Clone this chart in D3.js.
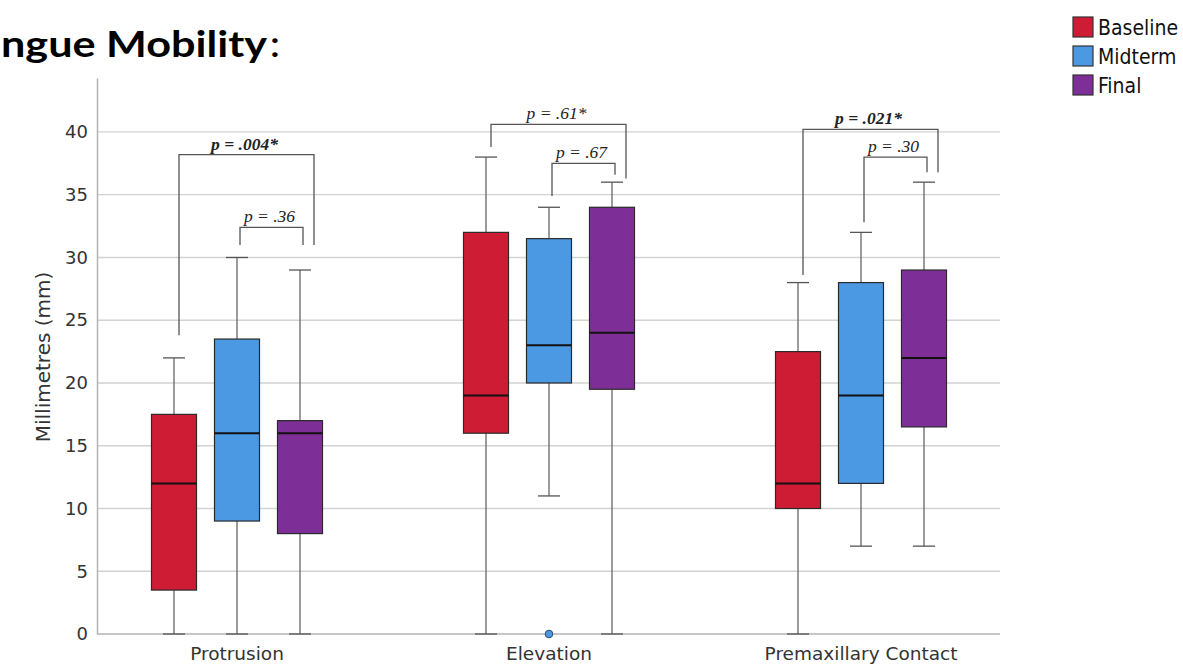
<!DOCTYPE html>
<html>
<head>
<meta charset="utf-8">
<script src="https://cdn.jsdelivr.net/npm/d3@7/dist/d3.min.js"></script>
<style>
  html, body { margin: 0; padding: 0; background: #fff; }
  svg { display: block; }
</style>
</head>
<body>
<svg id="chart" width="1183" height="667"></svg>
<script>
// ---------------- DATA ----------------
const categories = ["Protrusion", "Elevation", "Premaxillary Contact"];
const series = ["Baseline", "Midterm", "Final"];
// per category, per series
const whiskerLow  = [[0, 0, 0], [0, 11, 0], [0, 7, 7]];
const q1Values    = [[3.5, 9, 8], [16, 20, 19.5], [10, 12, 16.5]];
const medianValues= [[12, 16, 16], [19, 23, 24], [12, 19, 22]];
const q3Values    = [[17.5, 23.5, 17], [32, 31.5, 34], [22.5, 28, 29]];
const whiskerHigh = [[22, 30, 29], [38, 34, 36], [28, 32, 36]];
const outlierCategories = ["Elevation"];
const outlierSeries = ["Midterm"];
const outlierValues = [0];
const yTicks = [0, 5, 10, 15, 20, 25, 30, 35, 40];

// significance brackets
const bracketCategories = ["Protrusion", "Protrusion", "Elevation", "Elevation", "Premaxillary Contact", "Premaxillary Contact"];
const bracketFrom   = ["Baseline", "Midterm", "Baseline", "Midterm", "Baseline", "Midterm"];
const bracketTo     = ["Final", "Final", "Final", "Final", "Final", "Final"];
const bracketLevel  = ["outer", "inner", "outer", "inner", "outer", "inner"];
const bracketTop    = [38.2, 32.4, 40.6, 37.5, 40.2, 38.0];
const bracketLeftEnd  = [23.8, 31.0, 38.8, 34.9, 28.6, 32.8];
const bracketRightEnd = [31.0, 31.0, 36.3, 36.6, 36.8, 36.8];
const bracketLabels = ["p = .004*", "p = .36", "p = .61*", "p = .67", "p = .021*", "p = .30"];
const bracketBold   = [true, false, false, false, true, false];

const titleVisible = "ngue Mobility";
const colors = ["#cf1c35", "#4b98e3", "#7e2f97"];

// ---------------- CHART ----------------
const svg = d3.select("#chart");
const plotLeft = 97, plotRight = 1000;

const x = d3.scaleBand().domain(categories).range([81, 1017]).padding(0);
const xs = d3.scalePoint().domain(series).range([-63, 63]);
const y = d3.scaleLinear().domain([0, 44.3]).range([634, 78]);
const color = d3.scaleOrdinal().domain(series).range(colors);
const boxW = 45, capW = 22;
const cx = (c, s) => x(c) + x.bandwidth() / 2 + xs(s);

// gridlines
svg.append("g").selectAll("line").data(yTicks.filter(d => d > 0)).join("line")
  .attr("x1", plotLeft).attr("x2", plotRight)
  .attr("y1", d => y(d)).attr("y2", d => y(d))
  .attr("stroke", "#d2d2d2").attr("stroke-width", 1.3);

// y axis
const yAxis = d3.axisLeft(y).tickValues(yTicks).tickSize(0).tickPadding(9);
const gy = svg.append("g").attr("transform", `translate(${plotLeft},0)`).call(yAxis);
gy.select(".domain").attr("stroke", "#b4b4b4").attr("stroke-width", 1.5);
gy.selectAll("text").attr("font-family", "DejaVu Sans, sans-serif").attr("font-size", 18).attr("fill", "#333");

// x axis
const xAxis = d3.axisBottom(x).tickSize(0).tickPadding(13);
const gx = svg.append("g").attr("transform", `translate(0,${y(0)})`).call(xAxis);
gx.select(".domain").remove();
gx.selectAll("text").attr("font-family", "DejaVu Sans, sans-serif").attr("font-size", 18.5).attr("fill", "#333");
svg.append("line").attr("x1", plotLeft).attr("x2", plotRight)
  .attr("y1", y(0)).attr("y2", y(0)).attr("stroke", "#b4b4b4").attr("stroke-width", 1.5);

// y label
svg.append("text")
  .attr("transform", `translate(50,${(y(0) + y(40)) / 2 - 26}) rotate(-90)`)
  .attr("text-anchor", "middle")
  .attr("font-family", "DejaVu Sans, sans-serif").attr("font-size", 20).attr("fill", "#333")
  .text("Millimetres (mm)");

// boxes
const boxes = [];
categories.forEach((c, i) => series.forEach((s, j) => boxes.push({
  c, s, lo: whiskerLow[i][j], q1: q1Values[i][j], med: medianValues[i][j], q3: q3Values[i][j], hi: whiskerHigh[i][j]
})));

const gb = svg.append("g");
const bg = gb.selectAll("g").data(boxes).join("g");
// whiskers
bg.append("line").attr("x1", d => cx(d.c, d.s)).attr("x2", d => cx(d.c, d.s))
  .attr("y1", d => y(d.hi)).attr("y2", d => y(d.q3)).attr("stroke", "#666").attr("stroke-width", 1.3);
bg.append("line").attr("x1", d => cx(d.c, d.s)).attr("x2", d => cx(d.c, d.s))
  .attr("y1", d => y(d.q1)).attr("y2", d => y(d.lo)).attr("stroke", "#666").attr("stroke-width", 1.3);
bg.append("line").attr("x1", d => cx(d.c, d.s) - capW / 2).attr("x2", d => cx(d.c, d.s) + capW / 2)
  .attr("y1", d => y(d.hi)).attr("y2", d => y(d.hi)).attr("stroke", "#555").attr("stroke-width", 1.3);
bg.append("line").attr("x1", d => cx(d.c, d.s) - capW / 2).attr("x2", d => cx(d.c, d.s) + capW / 2)
  .attr("y1", d => y(d.lo)).attr("y2", d => y(d.lo)).attr("stroke", "#555").attr("stroke-width", 1.3);
// box
bg.append("rect").attr("x", d => cx(d.c, d.s) - boxW / 2).attr("width", boxW)
  .attr("y", d => y(d.q3)).attr("height", d => y(d.q1) - y(d.q3))
  .attr("fill", d => color(d.s)).attr("stroke", "#2a2a2a").attr("stroke-width", 1.2);
// median
bg.append("line").attr("x1", d => cx(d.c, d.s) - boxW / 2).attr("x2", d => cx(d.c, d.s) + boxW / 2)
  .attr("y1", d => y(d.med)).attr("y2", d => y(d.med)).attr("stroke", "#111").attr("stroke-width", 2);

// outliers
svg.append("g").selectAll("circle").data(outlierValues.map((v, i) => ({ c: outlierCategories[i], s: outlierSeries[i], v })))
  .join("circle").attr("cx", d => cx(d.c, d.s)).attr("cy", d => y(d.v)).attr("r", 3.8)
  .attr("fill", d => color(d.s)).attr("stroke", "#2a4a7a").attr("stroke-width", 1);

// brackets
const brackets = bracketLabels.map((label, i) => {
  const outer = bracketLevel[i] === "outer";
  return {
    label, bold: bracketBold[i],
    xl: cx(bracketCategories[i], bracketFrom[i]) + (outer ? 5 : 3),
    xr: cx(bracketCategories[i], bracketTo[i]) + (outer ? 14 : 3),
    top: bracketTop[i], le: bracketLeftEnd[i], re: bracketRightEnd[i]
  };
});
const gbr = svg.append("g");
gbr.selectAll("path").data(brackets).join("path")
  .attr("d", d => `M${d.xl},${y(d.le)}V${y(d.top)}H${d.xr}V${y(d.re)}`)
  .attr("fill", "none").attr("stroke", "#555").attr("stroke-width", 1.3);
gbr.selectAll("text").data(brackets).join("text")
  .attr("x", d => (d.xl + d.xr) / 2 - 2).attr("y", d => y(d.top) - 5)
  .attr("text-anchor", "middle")
  .attr("font-family", "Liberation Serif, Times New Roman, serif")
  .attr("font-style", "italic").attr("font-weight", d => d.bold ? "bold" : "normal")
  .attr("font-size", 17.5).attr("fill", "#222")
  .text(d => d.label);

// title (left part cropped in the original image)
const title = svg.append("text").attr("x", 0).attr("y", 0)
  .attr("font-family", "Lato, Open Sans, sans-serif").attr("font-size", 36).attr("fill", "#000");
title.append("tspan").attr("font-weight", "bold").text(titleVisible);
title.append("tspan").attr("font-weight", "normal").attr("dx", 2).text(":");
const tw = title.node().getComputedTextLength() || 277;
title.attr("transform", `translate(1,57) scale(${277 / tw},1)`);

// legend
const lg = svg.append("g").attr("transform", "translate(1073,17)");
const li = lg.selectAll("g").data(series).join("g").attr("transform", (d, i) => `translate(0,${i * 29})`);
li.append("rect").attr("width", 20).attr("height", 20).attr("fill", d => color(d))
  .attr("stroke", "#333").attr("stroke-width", 1.2);
li.append("text").attr("x", 25).attr("y", 10).attr("dy", "0.36em")
  .attr("font-family", "Liberation Sans Narrow, DejaVu Sans Condensed, sans-serif")
  .attr("font-stretch", "condensed")
  .attr("font-size", 21).attr("fill", "#111").text(d => d);
</script>
</body>
</html>
